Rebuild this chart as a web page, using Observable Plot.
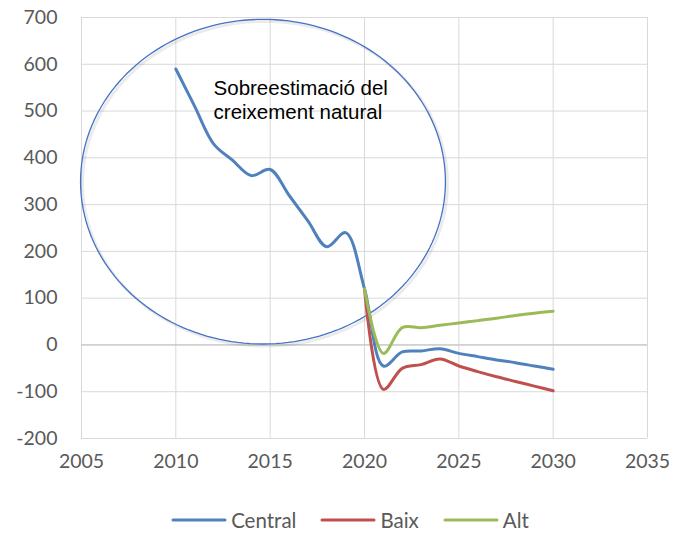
<!DOCTYPE html>
<html><head><meta charset="utf-8">
<script src="https://cdn.jsdelivr.net/npm/d3@7"></script>
<script src="https://cdn.jsdelivr.net/npm/@observablehq/plot@0.6"></script>
<style>
body{margin:0;background:#fff;}
#legend{display:flex;justify-content:center;font-family:Lato,"Open Sans",sans-serif;font-size:20.5px;color:#595959;height:30px;align-items:center;margin-top:25px;padding-left:26px;}
.item{display:flex;align-items:center;margin:0 12px;}
.item svg{margin-right:4px;}
</style></head><body>
<div id="chart"></div>
<div id="legend"></div>
<script>
const years = [2010,2011,2012,2013,2014,2015,2016,2017,2018,2019,2020,2021,2022,2023,2024,2025,2026,2027,2028,2029,2030];
const central = [590,510,430,395,362,375,320,265,210,240,120,-45,-15,-13,-8,-18,-25,-32,-38,-45,-52];
const projYears = [2020,2021,2022,2023,2024,2025,2026,2027,2028,2029,2030];
const baix = [120,-95,-50,-42,-30,-45,-57,-68,-78,-88,-98];
const alt = [120,-18,37,37,42,47,52,57,63,68,72];
const seriesNames = ["Central","Baix","Alt"];
const colors = ["#4F81BD","#C0504D","#9BBB59"];
const xTicks = [2005,2010,2015,2020,2025,2030,2035];
const yTicks = [-200,-100,0,100,200,300,400,500,600,700];
const annotation = "Sobreestimació del\ncreixement natural";
const ellipseCenter = {x:2014.62, y:349};
const ellipseRadius = {x:9.67, y:347};

const rows = [
  ...years.map((x,i)=>({x,y:central[i],s:"Central"})),
  ...projYears.map((x,i)=>({x,y:baix[i],s:"Baix"})),
  ...projYears.map((x,i)=>({x,y:alt[i],s:"Alt"}))
];
const ell = d3.range(0,361,2).map(a=>({x:ellipseCenter.x+ellipseRadius.x*Math.cos(a*Math.PI/180), y:ellipseCenter.y+ellipseRadius.y*Math.sin(a*Math.PI/180)}));

const chart = Plot.plot({
  width:674, height:480,
  marginLeft:81, marginRight:27, marginTop:17, marginBottom:42,
  style:{fontFamily:"Lato, 'Open Sans', sans-serif", fontSize:"19.5px", color:"#595959", background:"#fff"},
  x:{domain:[2005,2035], ticks:xTicks, tickFormat:d=>String(d), label:null},
  y:{domain:[-200,700], ticks:yTicks, tickFormat:d=>String(d), label:null},
  color:{domain:seriesNames, range:colors},
  marks:[
    Plot.gridX(xTicks,{stroke:"#d9d9d9", strokeOpacity:1, strokeWidth:1}),
    Plot.gridY(yTicks,{stroke:"#d9d9d9", strokeOpacity:1, strokeWidth:1}),
    Plot.ruleY([0],{stroke:"#bfbfbf", strokeWidth:1}),
    Plot.axisX({ticks:xTicks, tickSize:0, tickPadding:16, tickFormat:d=>String(d), fill:"#595959", label:null}),
    Plot.axisY({ticks:yTicks, tickSize:0, tickPadding:24, tickFormat:d=>String(d), fill:"#595959", label:null}),
    Plot.line(ell,{x:"x",y:"y",stroke:"#000",strokeOpacity:0.08,strokeWidth:3,dx:2,dy:2,curve:"linear"}),
    Plot.line(ell,{x:"x",y:"y",stroke:"#4472C4",strokeWidth:1.3,curve:"linear"}),
    Plot.line(rows.filter(d=>d.s==="Baix"),{x:"x",y:"y",stroke:colors[1],strokeWidth:3,curve:"catmull-rom"}),
    Plot.line(rows.filter(d=>d.s==="Central"),{x:"x",y:"y",stroke:colors[0],strokeWidth:3,curve:"catmull-rom"}),
    Plot.line(rows.filter(d=>d.s==="Alt"),{x:"x",y:"y",stroke:colors[2],strokeWidth:3,curve:"catmull-rom"}),
    Plot.text([annotation],{x:()=>2012, y:()=>526, text:d=>d, textAnchor:"start", lineAnchor:"middle", lineHeight:1.17, fontSize:20.5, fill:"#000", fontFamily:"'Liberation Sans', Arial, sans-serif"})
  ]
});
document.getElementById("chart").append(chart);

const leg = document.getElementById("legend");
seriesNames.forEach((n,i)=>{
  const it=document.createElement("div"); it.className="item";
  it.innerHTML=`<svg width="56" height="6"><line x1="2" x2="54" y1="3" y2="3" stroke="${colors[i]}" stroke-width="3" stroke-linecap="round"/></svg><span>${n}</span>`;
  leg.append(it);
});
</script>
</body></html>
